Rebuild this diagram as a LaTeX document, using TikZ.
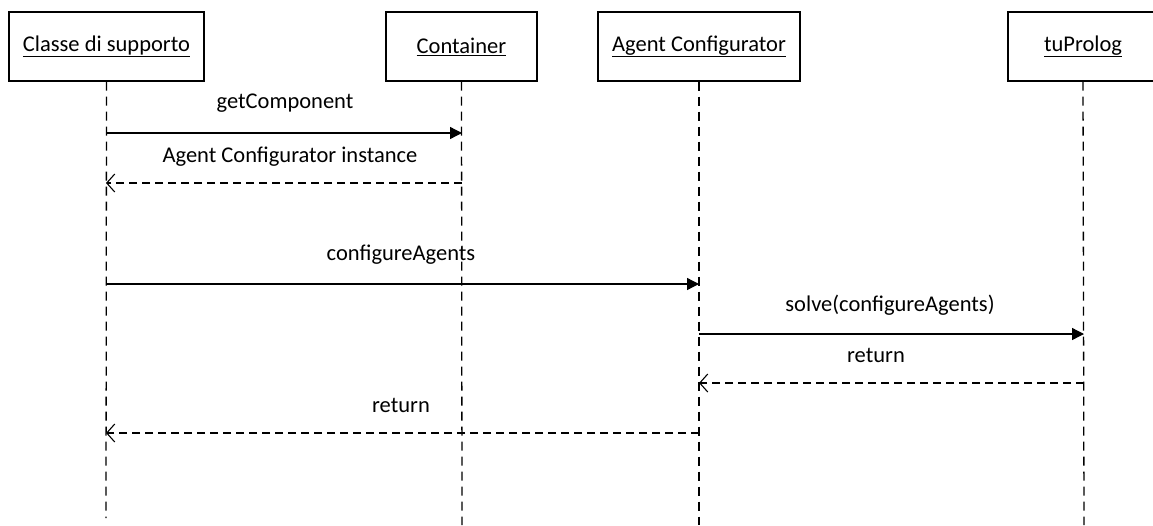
\documentclass[tikz,border=0pt]{standalone}
\usepackage{fontspec}
\setmainfont{Carlito}
\usetikzlibrary{arrows.meta}
\begin{document}
\begin{tikzpicture}[x=1pt,y=-1pt,
  obj/.style={draw,line width=1.3pt,minimum height=69pt,inner sep=0pt,font=\fontsize{22.5}{26}\selectfont},
  life/.style={line width=1.3pt,dash pattern=on 9pt off 6pt},
  call/.style={line width=1.3pt,-{Triangle[length=12pt,width=12pt]}},
  ret/.style={line width=1.3pt,dash pattern=on 8pt off 5pt,-{Straight Barb[length=8pt,width=18pt,line width=1.1pt]}},
  lbl/.style={font=\fontsize{22.5}{26}\selectfont,inner sep=0pt}]
\useasboundingbox (0,0) rectangle (1153,525);
\node[obj,minimum width=195pt] (cs) at (106.5,46.5) {\underline{Classe di supporto}};
\node[obj,minimum width=151pt] (ct) at (461.5,46.5) {\underline{Container}};
\node[obj,minimum width=202pt] (ac) at (699,46.5) {\underline{Agent Configurator}};
\node[obj,minimum width=150pt] (tp) at (1083,46.5) {\underline{tuProlog}};
\coordinate (csb) at (106,518);
\coordinate (ctb) at (462,525);
\coordinate (acb) at (699,525);
\coordinate (tpb) at (1084,525);
\draw[life] (cs.south) -- (csb);
\draw[life] (ct.south) -- (ctb);
\draw[life] (ac.south) -- (acb);
\draw[life] (tp.south) -- (tpb);
% messages
\coordinate (m1a) at (106,133); \coordinate (m1b) at (462,133);
\draw[call] (m1a) -- (m1b);
\node[lbl] (l1) at (285,103) {getComponent};
\coordinate (m2a) at (462,183); \coordinate (m2b) at (106,183);
\draw[ret] (m2a) -- (m2b);
\node[lbl] (l2) at (290,157) {Agent Configurator instance};
\coordinate (m3a) at (106,284); \coordinate (m3b) at (699,284);
\draw[call] (m3a) -- (m3b);
\node[lbl] (l3) at (401,255) {configureAgents};
\coordinate (m4a) at (699,334); \coordinate (m4b) at (1084,334);
\draw[call] (m4a) -- (m4b);
\node[lbl] (l4) at (890,305) {solve(configureAgents)};
\coordinate (m5a) at (1084,383); \coordinate (m5b) at (699,383);
\draw[ret] (m5a) -- (m5b);
\node[lbl] (l5) at (876,355) {return};
\coordinate (m6a) at (699,433); \coordinate (m6b) at (106,433);
\draw[ret] (m6a) -- (m6b);
\node[lbl] (l6) at (401,405) {return};
\end{tikzpicture}
\end{document}
